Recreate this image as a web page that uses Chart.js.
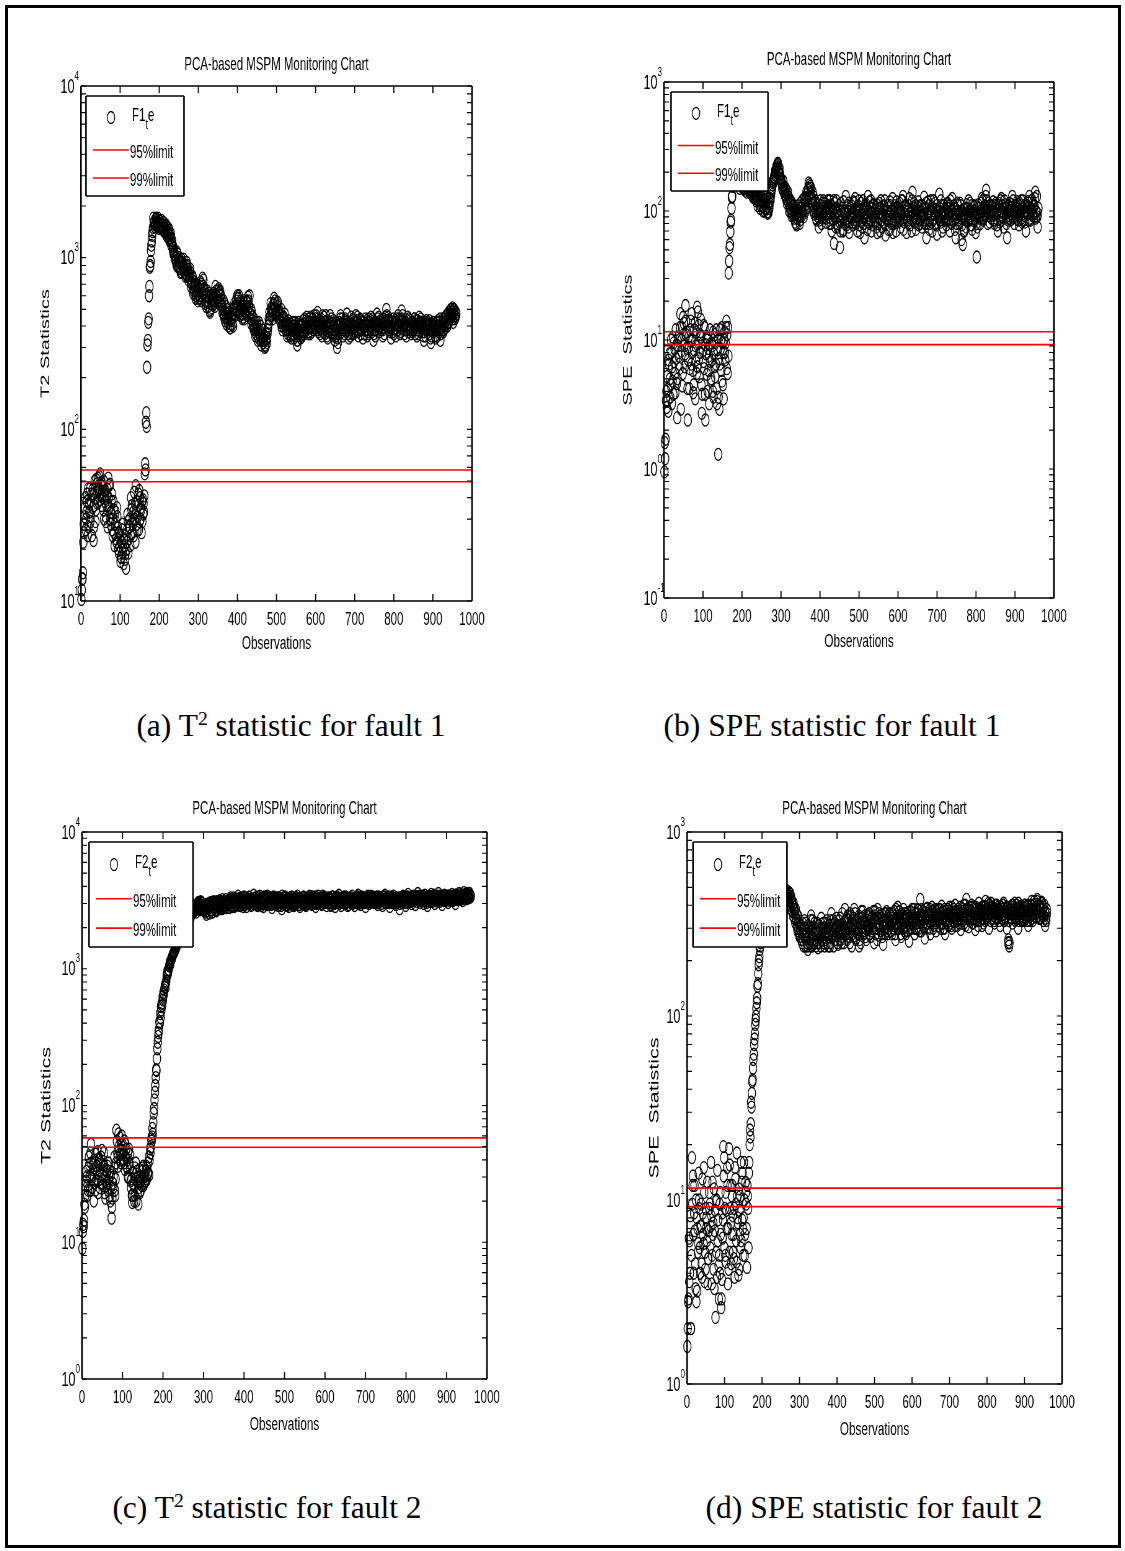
<!DOCTYPE html>
<html><head><meta charset="utf-8">
<script src="https://cdn.jsdelivr.net/npm/chart.js@4.4.1/dist/chart.umd.min.js"></script>
<style>
html,body{margin:0;padding:0;background:#fff;}
body{width:1125px;height:1551px;position:relative;overflow:hidden;}
#frame{position:absolute;left:5px;top:5px;width:1110px;height:1537px;border:3px solid #000;}
.wrap{position:absolute;transform-origin:0 0;}
.wrap canvas{display:block;}
.cap{position:absolute;font-family:"Liberation Serif","Times New Roman",serif;font-size:31.5px;line-height:1;color:#000;white-space:nowrap;transform:translate(-50%,-50%);}
.cap sup{font-size:62%;vertical-align:0.6em;line-height:0;}
</style></head><body>
<div id="frame"></div>
<div class="wrap" id="wa"><canvas id="ca"></canvas></div>
<div class="wrap" id="wb"><canvas id="cb"></canvas></div>
<div class="wrap" id="wc"><canvas id="cc"></canvas></div>
<div class="wrap" id="wd"><canvas id="cd"></canvas></div>
<div class="cap" style="left:291px;top:726px">(a) T<sup>2</sup> statistic for fault 1</div>
<div class="cap" style="left:832px;top:726px">(b) SPE statistic for fault 1</div>
<div class="cap" style="left:267px;top:1508px">(c) T<sup>2</sup> statistic for fault 2</div>
<div class="cap" style="left:874px;top:1508px">(d) SPE statistic for fault 2</div>
<script>
// ---------------- data ----------------
// three interleaved observation passes: obs 1,4,7,... / 2,5,8,... / 3,6,9,...
const obsPassA = Array.from({length: 320}, (_, i) => 1 + 3 * i);
const obsPassB = Array.from({length: 320}, (_, i) => 2 + 3 * i);
const obsPassC = Array.from({length: 320}, (_, i) => 3 + 3 * i);
const obsTicks = [0, 100, 200, 300, 400, 500, 600, 700, 800, 900, 1000];
const chartTitle = 'PCA-based MSPM Monitoring Chart';
const xTitle = 'Observations';
const limitLabels = ['95%limit', '99%limit'];
const t2Limits = [49.5, 58];
const speLimits = [9.2, 11.6];

const t2Fault1A = [
10.2,13.5,28,35,30,42,27,33,38,24,45,36,29,48,52,44,55,47,40,50,
38,31,45,52,35,28,42,30,25,33,22,27,19,24,18,28,16.5,21,15.5,26,
19,30,24,36,28,43,22,38,31,26,40,34,29,37,55,110,230,420,680,950,
1250,1500,1620,1580,1650,1600,1550,1620,1500,1560,1480,1530,1420,1500,1380,1450,1300,1220,1100,1050,
1000,920,1050,880,950,830,900,980,820,900,780,850,760,820,700,760,640,700,600,660,
640,580,700,620,740,660,560,610,520,580,500,560,530,600,560,640,580,660,560,600,
520,470,540,450,500,420,460,390,430,470,510,460,560,600,520,480,540,470,500,440,
480,550,590,520,470,410,450,380,420,360,400,340,380,330,360,320,350,305,340,380,
420,460,510,440,530,560,480,520,450,490,420,460,400,440,380,420,360,400,370,340,
380,420,350,390,310,360,400,340,380,430,370,410,450,390,420,360,400,440,380,420,
460,400,370,430,390,350,410,450,380,420,340,390,460,410,370,430,330,380,300,360,
420,460,390,350,410,440,370,400,340,390,450,410,360,420,460,400,350,390,430,380,
340,400,440,380,420,360,400,450,390,330,380,420,470,410,370,430,390,350,410,450,
500,430,380,420,340,400,440,390,350,420,460,400,370,490,430,380,410,350,390,440,
400,360,420,380,440,400,350,410,450,390,420,370,330,390,430,380,410,360,320,380,
420,380,340,390,430,370,330,400,440,380,420,460,400,480,440,500,460,420,490,450
];
const t2Fault1B = [
11.6,14.6,25,40,33,24,37,45,31,41,22.5,50,34,43,38,53,41,36,46,30,
44,36,27,40,48,33,26,38,21,29,35,20,25,17,22,19,23,17.5,20,32,
23,27,40,25,33,30,47,28,36,44,30,25,39,33,63,125,310,440,880,1100,
1350,1700,1520,1680,1550,1700,1480,1580,1650,1450,1600,1400,1550,1320,1480,1250,1380,1260,1150,1080,
960,1080,900,1000,860,980,870,920,860,800,900,740,800,680,740,620,680,580,640,560,
600,680,560,760,620,590,520,640,560,490,600,510,620,540,680,600,560,620,640,530,
480,560,430,520,440,400,480,410,450,400,540,500,580,540,600,460,520,440,560,470,
520,460,560,600,440,480,400,440,350,390,330,420,350,310,380,330,300,360,320,400,
480,540,470,500,580,510,460,550,480,430,500,380,430,470,400,350,430,380,410,360,
400,340,420,360,330,420,370,400,350,410,440,380,420,360,390,450,370,410,460,390,
420,480,410,360,440,400,370,420,460,350,410,370,420,440,350,400,360,420,340,400,
380,410,440,390,360,420,470,380,410,350,400,430,390,370,420,450,380,410,360,420,
390,360,410,430,370,420,380,400,440,360,410,380,420,450,390,400,430,380,360,420,
460,400,430,370,390,420,360,410,440,380,410,430,400,440,390,360,420,400,450,380,
430,390,370,410,390,430,380,360,420,440,390,410,370,350,400,420,380,410,350,400,
370,410,380,350,400,420,360,380,410,440,390,430,470,420,490,450,510,470,440,480
];
const t2Fault1C = [
13.4,22,31,26,38,45,33,29,42,35,27,40,51,37,46,39,49,43,34,41,
29,41,36,47,30,38,24,34,28,23,31,25,21,18,26,20,24,19,22,29,
27,21,34,30,24,37,33,26,42,29,35,38,32,41,58,104,330,600,900,1180,
1420,1600,1560,1700,1590,1520,1640,1550,1490,1600,1420,1470,1350,1420,1300,1350,1180,1200,1050,990,
1020,890,980,930,820,940,850,880,780,940,820,790,860,720,780,660,720,600,620,580,
660,720,600,680,650,540,600,550,620,480,540,580,570,520,610,590,640,540,600,560,
500,450,480,410,470,440,390,440,410,500,470,520,500,580,490,560,500,450,520,490,
560,500,540,480,500,430,390,400,380,420,370,360,400,340,330,350,310,330,360,440,
440,500,490,540,500,470,540,490,440,470,400,420,450,400,410,380,390,350,390,420,
360,400,380,330,380,410,350,370,400,360,390,430,400,370,440,390,420,380,410,440,
380,440,400,380,420,460,390,360,400,430,370,420,390,360,410,380,350,400,320,420,
440,370,410,380,430,390,410,360,420,380,360,440,400,380,430,370,410,440,390,400,
420,380,400,350,440,390,430,370,410,420,350,400,440,390,420,380,410,440,390,430,
410,450,400,380,420,370,410,430,390,400,440,360,420,460,400,420,380,430,370,410,
380,420,400,440,360,410,430,390,370,410,400,350,420,380,410,390,430,340,400,420,
400,350,420,400,380,440,390,420,370,400,450,410,440,460,470,480,440,500,460,470
];
const speFault1A = [
0.95,1.7,3.0,4.2,6.5,3.6,8.0,4.8,9.5,5.5,7.2,2.5,10.5,6.0,2.9,12.5,15,9.0,18.5,11.5,
2.4,8.8,12,6.5,10,4.5,13.5,7.0,18,9.5,5.2,14.5,2.7,8.2,6.0,2.4,10.5,4.0,7.5,12,
5.0,9.0,3.6,11,6.5,3.2,1.3,2.9,8.5,12.5,4.5,10,7.0,14,5.5,33,55,85,130,170,
190,180,200,170,185,160,175,150,165,155,170,150,160,145,155,140,150,135,145,125,
130,115,140,120,108,135,118,105,125,98,115,130,150,165,180,200,215,235,205,190,
175,160,150,140,125,135,115,105,120,95,110,88,100,78,92,105,85,98,110,90,
120,105,135,150,160,140,125,110,95,120,85,105,75,95,110,88,120,100,82,95,
110,80,95,70,100,56,88,120,75,92,52,85,105,72,95,130,82,100,68,90,
110,78,95,125,85,70,100,88,115,75,92,62,105,85,130,80,98,70,90,112,
82,95,68,105,88,120,75,92,100,65,85,110,90,72,98,125,80,95,70,105,
88,115,75,95,130,82,100,68,92,110,78,96,140,85,105,72,95,118,80,100,
75,92,128,85,62,98,110,80,95,70,120,88,102,66,90,135,82,98,75,110,
95,78,115,88,70,100,125,85,95,62,90,110,80,98,60,55,88,105,75,95,
120,85,100,72,95,110,68,44,90,105,80,98,120,88,110,145,95,115,82,100,
92,118,80,105,95,70,110,88,125,98,75,105,90,62,100,115,85,95,120,80,
100,88,112,78,95,120,85,105,92,70,110,95,130,85,100,115,90,140,98,75
];
const speFault1B = [
1.6,3.4,5.2,2.8,7.8,4.5,3.2,10.5,6.8,3.9,9.2,5.0,7.5,12.5,8.2,4.4,11,6.2,14,8.6,
7.0,4.2,9.8,16,5.8,8.4,3.5,11.5,6.2,13,8.0,10.5,3.8,6.8,12.5,9.2,5.4,8.6,3.2,6.8,
9.5,4.0,7.8,5.2,12,8.4,3.6,6.5,10,4.8,8.0,11.5,9.5,6.0,12.5,41,69,105,155,185,
175,195,165,180,150,170,155,175,150,160,140,155,145,160,135,150,130,145,120,135,
120,140,110,128,100,122,112,130,96,108,125,140,160,175,190,210,225,200,215,180,
165,145,155,130,145,120,128,112,100,115,96,105,80,98,110,90,115,92,100,125,
112,140,120,165,135,150,115,130,105,98,112,90,100,120,80,105,95,115,88,105,
95,120,80,108,85,115,75,98,90,110,70,100,88,118,80,95,110,75,92,105,
88,100,115,80,105,92,120,68,95,102,80,110,90,72,100,118,85,105,78,95,
100,75,90,115,70,95,108,82,120,88,100,72,95,110,85,68,105,90,118,82,
105,85,98,120,72,95,110,85,100,125,88,70,100,115,82,95,108,78,98,88,
110,82,95,105,80,118,72,92,108,85,95,115,78,100,88,105,120,70,95,88,
100,112,85,95,120,80,92,105,72,98,115,85,95,110,78,92,70,95,112,85,
100,115,78,95,108,85,95,75,112,88,100,125,85,105,92,120,80,98,110,88,
108,85,98,115,78,100,92,120,85,105,95,112,80,98,110,88,105,130,90,102,
92,118,85,100,110,88,120,95,82,108,98,115,88,105,122,95,110,88,130,95
];
const speFault1C = [
1.2,4.0,3.4,7.0,5.0,10,6.2,3.8,8.5,12,4.6,9.0,6.5,16,10,5.5,13.5,7.8,11,4.2,
10.5,6.0,14,8.0,3.9,12,9.0,5.5,16.5,7.2,11,4.5,9.5,13,3.8,7.8,10,5.8,9.2,4.8,
7.0,11.5,6.2,9.5,4.2,10.5,7.2,12,5.8,9.5,3.5,8.0,12.5,11,7.5,52,82,128,165,195,
185,170,190,160,175,165,180,160,145,165,150,160,140,150,145,128,140,125,130,110,
140,105,125,112,130,100,120,98,115,105,120,145,170,185,205,220,230,210,195,170,
150,170,135,150,115,140,100,118,92,108,100,82,95,88,100,80,105,120,95,105,
100,125,145,130,155,120,140,100,115,88,100,95,85,110,98,115,90,108,98,120,
90,105,110,88,120,92,105,80,100,82,115,95,70,100,86,78,100,115,82,100,
95,118,82,100,90,110,78,102,85,120,88,95,112,92,82,105,120,95,110,85,
90,112,80,98,105,85,92,110,78,100,92,85,118,100,80,95,110,85,100,92,
95,100,120,85,95,110,90,105,80,95,100,120,85,92,110,88,100,85,110,92,
90,105,80,115,95,85,100,120,82,105,95,80,110,92,100,85,95,110,88,100,
85,105,95,110,82,100,95,110,88,80,100,95,115,88,100,70,95,85,105,90,
88,100,110,85,100,95,80,95,105,92,115,88,100,95,130,100,108,92,98,110,
100,95,110,88,100,115,82,100,110,90,120,95,105,85,92,100,112,88,100,110,
105,98,90,115,100,82,105,110,98,95,118,85,100,120,92,108,125,100,90,105
];
const t2Fault2A = [
9,13,18,28,22,35,30,52,25,38,27,44,32,23,40,29,47,26,36,21,
33,24,30,20,15,27,35,22,66,42,50,58,38,52,45,34,48,40,30,44,
25,19.5,32,22,38,28,19,34,24,30,36,27,33,29,38,31,45,55,62,95,
140,180,290,360,470,500,620,650,760,810,960,990,1120,1150,1230,1300,1350,1420,1500,1580,
1650,1720,1780,1850,1900,1980,2050,2150,2250,2400,2550,2700,2850,2700,2950,2800,3000,2750,3050,2850,
2650,2900,2500,2800,3000,2700,2950,2600,3100,2850,2700,3000,2800,3150,2900,2750,3050,2850,3200,2950,
3100,2800,3300,2950,3150,2850,3250,3000,3400,3100,2900,3200,3000,3350,3050,2850,3250,3000,3150,2900,
3200,3450,3000,3300,2900,3150,3400,3050,3250,2850,3100,3350,2950,3200,3000,3300,2800,3100,3250,2950,
3150,2900,3300,3050,2750,3200,3000,3350,2950,3150,2850,3250,3050,3300,2900,3150,3000,3400,3100,2850,
3200,3000,3350,3100,2900,3250,3050,3400,3150,2950,3300,3100,2850,3200,3400,3050,3250,2950,3150,3350,
3100,2900,3300,3050,3200,2950,3350,3150,2850,3250,3050,3450,3100,2900,3300,3150,3000,3350,3100,2950,
3250,3050,3400,3150,2900,3300,3100,3450,3200,2950,3350,3050,3250,2850,3150,3400,3000,3250,3100,3350,
3050,3300,3150,2950,3350,3100,3250,2900,3200,3450,3050,3300,3100,2850,3250,3050,3400,3150,2950,3300,
3100,2750,3250,3050,3400,3150,2900,3300,3500,3100,3250,3000,3400,3150,2950,3350,3550,3200,3050,3400,
3250,3000,3450,3150,2900,3350,3200,3500,3100,3300,3000,3400,3200,3550,3100,3300,2950,3250,3450,3150,
3300,3050,3400,3200,3500,3150,3350,3000,3450,3250,3550,3200,3400,3150,3600,3350,3250,3500,3300,3450
];
const t2Fault2B = [
12,14.5,22,33,26,42,24,38,31,20,35,28,46,37,25,42,31,39,23,34,
27,38,22,31,18,25,42,29,55,36,47,40,60,44,38,52,36,30,48,35,
29,22,26,35,20,30,25,23,28,33,26,31,28,35,32,40,50,59,75,110,
160,220,320,410,440,560,590,700,730,880,920,1050,1080,1200,1260,1320,1400,1460,1540,1620,
1700,1760,1820,1880,1950,2000,2100,2200,2320,2480,2620,2780,2650,2900,2750,3050,2900,3100,2800,2700,
2800,2600,2950,2750,2550,2900,2700,3050,2800,2950,2650,2900,3100,2800,3000,3200,2900,3100,2800,3050,
2950,3200,2850,3100,3300,3000,2900,3200,3050,2950,3250,3100,2850,3150,3300,3000,3100,3350,2950,3200,
3050,3150,3300,2950,3200,3050,3250,2900,3150,3350,3000,3200,3400,3050,3250,2950,3150,3350,3050,3200,
3000,3250,2950,3200,3400,3050,3300,3100,2900,3250,3150,3000,3350,3100,3200,2950,3300,3100,2950,3250,
3050,3300,3100,2950,3200,3000,3300,3150,3000,3350,3100,3250,3050,3300,3100,3250,3000,3300,3250,3050,
3250,3150,3050,3300,2900,3200,3100,3000,3300,3150,3250,3000,3250,3150,3050,3350,3200,3050,2900,3250,
3100,3300,3000,3250,3150,3050,3350,3000,3250,3150,3050,3300,3100,3200,3350,3050,3200,3400,3250,3100,
3200,3100,3350,3050,3200,3300,3000,3200,3350,3050,3250,3150,3350,3050,3200,3300,3100,3250,3050,3200,
3250,3000,3150,3350,3100,3250,3350,3050,3200,3300,3100,3350,3150,3250,3400,3100,3250,3400,3300,3150,
3400,3150,3300,3050,3250,3400,3100,3300,3250,3450,3200,3300,3100,3350,3400,3200,3350,3150,3300,3400,
3200,3400,3250,3350,3150,3400,3300,3450,3200,3350,3300,3500,3250,3450,3300,3400,3550,3300,3450,3350
];
const t2Fault2C = [
13.5,19,26,30,24,37,45,29,34,40,24,36,28,41,33,27,37,45,30,26,
36,28,33,25,21,30,24,38,45,62,44,52,47,40,55,42,35,45,38,28,
22,27,20,29,33,23,27,30,26,35,30,28,36,32,42,48,57,68,88,125,
183,260,340,400,530,540,670,735,780,920,985,1060,1140,1200,1280,1330,1430,1480,1560,1620,
1690,1740,1800,1860,1920,2000,2080,2180,2300,2450,2600,2750,2800,2600,2850,2950,2700,2900,3000,2750,
2900,2750,2650,2950,2800,3050,2600,2850,2950,2700,3100,2850,2950,2750,3100,3000,2800,3000,2950,3100,
3000,3150,3050,2850,3200,3100,2950,3150,3250,2900,3050,3300,3150,2950,3200,3100,3000,3200,3100,3050,
3100,3250,3150,3050,3350,2950,3150,3250,3000,3150,3250,2950,3100,3300,3100,3150,3000,3250,3150,3300,
3300,3100,3150,2900,3100,3300,3150,2950,3200,3050,3300,3100,2950,3200,3050,3300,3150,3250,2950,3100,
3150,3100,3250,3000,3100,3300,3200,3100,3250,3050,3150,3350,3000,3100,3250,3200,3100,3400,3050,3200,
3150,3050,3200,3250,3050,3350,3100,3200,3050,3350,3200,3150,3050,3250,3200,3050,3250,3200,3250,3100,
3150,3200,3250,3050,3300,3150,3250,3100,3050,3300,3150,3200,3300,3050,3250,3150,3300,3100,3200,3250,
3150,3250,3050,3250,3150,3300,3150,3350,3100,3250,3150,3250,3050,3200,3350,3150,3250,3050,3200,3150,
3300,3150,3300,3200,3250,3050,3200,3350,3250,3200,3350,3150,3250,3350,3200,3250,3350,3150,3300,3250,
3150,3300,3200,3350,3200,3250,3350,3150,3350,3200,3350,3250,3400,3250,3300,3400,3200,3350,3250,3300,
3400,3300,3150,3400,3300,3250,3450,3300,3350,3400,3300,3400,3350,3300,3450,3500,3350,3400,3550,3400
];
const speFault2A = [
1.6,2.9,6.0,2.0,17,13.5,8.5,4.5,2.8,7.0,14,5.5,9.5,3.8,6.5,11,4.2,8.0,3.5,6.8,
9.5,16,5.0,7.5,3.3,2.3,10,6.0,2.9,4.0,2.6,8.5,19.5,5.5,11,7.0,3.5,19,9.0,4.5,
12,6.5,3.8,9.5,18,7.5,4.2,10.5,6.0,14,8.0,5.0,11,4.3,9.0,16,22,32,45,62,
80,100,125,170,210,250,300,340,380,420,450,470,440,480,430,460,410,450,400,440,
420,460,400,450,410,470,430,480,440,470,410,450,380,420,350,390,320,360,290,330,
270,310,250,290,330,240,280,230,300,260,350,240,280,320,255,295,235,310,270,340,
260,300,240,285,330,270,310,250,360,290,240,320,275,305,245,290,340,270,315,250,
380,300,260,330,280,350,240,310,290,360,265,320,285,340,250,305,370,280,320,260,
330,295,360,270,340,310,250,350,300,380,275,320,290,355,245,330,300,370,280,340,
310,350,280,330,370,260,320,390,300,345,270,335,380,290,340,310,365,255,330,300,
360,320,280,340,300,375,330,430,290,350,320,265,340,385,305,355,280,330,370,310,
345,290,380,330,360,300,395,320,350,280,370,335,310,390,345,300,365,325,400,340,
310,370,335,295,385,350,320,400,430,345,305,375,340,390,320,360,295,380,345,410,
330,370,310,395,350,420,335,380,300,365,410,340,385,320,360,400,345,375,310,390,
355,410,330,380,300,250,240,345,390,320,365,410,340,385,300,360,395,330,375,345,
400,340,370,310,390,350,420,330,380,405,345,430,370,395,340,415,380,350,310,330
];
const speFault2B = [
2.0,6.2,4.0,2.0,9.5,6.5,12,3.3,8.0,5.2,10,4.0,7.2,13,5.8,3.6,9.0,6.0,4.8,11,
5.5,8.2,12.5,4.2,6.8,9.8,3.8,7.8,5.0,11,2.9,6.2,13.5,9.0,4.6,15,7.0,5.2,12,6.5,
8.2,4.8,15,6.0,10.5,3.9,8.8,5.5,12.5,7.0,16,6.5,9.5,12,5.5,20,26,38,52,70,
90,110,145,190,230,270,320,360,400,440,460,420,470,440,480,420,460,430,470,410,
450,410,470,430,460,420,480,450,460,420,470,400,440,370,410,340,380,310,350,280,
300,260,320,240,300,270,250,310,280,240,300,330,260,290,240,320,280,250,295,260,
290,250,320,260,300,240,280,330,270,310,290,260,340,280,310,260,300,250,290,320,
330,280,350,300,250,310,330,270,380,300,330,280,350,260,320,340,290,330,300,350,
300,360,280,320,290,370,330,280,340,310,360,300,340,270,310,360,330,290,350,320,
360,290,340,300,320,380,340,300,370,320,350,300,330,360,280,350,320,340,370,320,
330,380,340,300,360,330,290,350,380,310,360,340,380,320,350,300,360,390,330,355,
380,330,350,310,380,345,320,370,300,350,330,380,355,320,360,390,330,350,310,370,
350,320,390,360,330,370,350,310,380,360,390,340,370,320,380,340,390,360,310,370,
380,340,360,320,390,360,380,350,400,330,370,390,350,380,340,360,390,330,370,355,
380,330,370,350,390,260,250,380,340,400,360,330,380,350,410,340,370,360,390,330,
360,390,330,380,350,400,340,370,420,360,380,350,400,340,390,360,330,400,360,380
];
const speFault2C = [
2.8,3.6,8.2,5.0,12,4.0,6.8,10,3.2,5.8,9.0,7.2,4.5,8.5,15,5.2,7.0,12.5,4.8,9.0,
7.2,3.5,6.5,11.5,8.8,5.2,14.5,4.4,9.5,6.5,3.7,7.8,17,5.0,8.8,12,4.2,15.5,7.5,10.5,
5.2,9.0,13,4.6,8.0,11.5,6.5,16,7.8,5.0,10,12.5,7.0,10.5,14,24,34,44,58,75,
95,118,150,200,240,290,330,370,410,430,470,440,460,420,470,440,480,420,450,460,
430,480,440,460,420,450,470,430,480,450,430,460,410,400,380,360,340,300,320,270,
310,280,260,300,270,320,240,270,250,330,270,300,250,300,280,250,310,270,240,300,
320,270,300,250,290,310,240,300,280,330,260,300,310,250,330,280,260,360,280,300,
290,340,300,270,360,300,280,340,310,260,330,300,240,310,370,280,320,350,270,310,
350,310,270,340,300,330,370,300,260,340,310,350,280,330,300,280,360,320,300,360,
290,330,360,310,280,340,300,350,330,280,360,320,300,340,360,290,340,300,350,380,
340,300,360,320,380,300,350,320,340,370,300,350,320,360,330,380,320,350,300,360,
320,370,340,380,320,360,340,300,380,340,320,360,330,370,310,350,380,340,370,330,
380,340,360,320,350,400,340,370,340,380,330,350,400,360,340,390,360,330,380,350,
360,390,340,370,330,380,350,410,360,390,340,370,330,400,370,340,380,360,390,340,
400,360,340,390,360,330,380,360,400,350,380,340,400,360,330,390,350,380,340,400,
370,350,400,360,330,380,360,400,350,390,420,370,340,380,410,350,390,370,340,360
];

// ---------------- layout ----------------
const SX = 0.62;               // horizontal squeeze of the original figure
const FONT = '"Liberation Sans", Arial, sans-serif';

const panels = [
  {id:'a', passes:[t2Fault1A, t2Fault1B, t2Fault1C], name:'F1', lims:t2Limits, yExp:[1,4], yTitle:'T2 Statistics', yTitleSize:20,
   canvas:[25,45,495,665], area:[81,86,472,601], titleY:65, xTitleY:644, yTitleX:46, legend:[86,96,98,100]},
  {id:'b', passes:[speFault1A, speFault1B, speFault1C], name:'F1', lims:speLimits, yExp:[-1,3], yTitle:'SPE  Statistics', yTitleSize:20,
   canvas:[605,40,1075,660], area:[664,82,1054,598], titleY:60, xTitleY:642, yTitleX:628, legend:[671,92,97,99]},
  {id:'c', passes:[t2Fault2A, t2Fault2B, t2Fault2C], name:'F2', lims:t2Limits, yExp:[0,4], yTitle:'T2 Statistics', yTitleSize:21.5,
   canvas:[25,790,505,1445], area:[82,832,487,1379], titleY:808.5, xTitleY:1425, yTitleX:47, legend:[89,842,104,105]},
  {id:'d', passes:[speFault2A, speFault2B, speFault2C], name:'F2', lims:speLimits, yExp:[0,3], yTitle:'SPE  Statistics', yTitleSize:21.5,
   canvas:[625,790,1080,1450], area:[687,832,1062,1384], titleY:808.5, xTitleY:1430, yTitleX:655, legend:[693,842,94,105]}
];
const obsPasses = [obsPassA, obsPassB, obsPassC];

const matlabPlugin = {
  id: 'matlabAxes',
  afterDraw(chart) {
    const p = chart.$panel;
    const ctx = chart.ctx, a = chart.chartArea;
    const xs = chart.scales.x, ys = chart.scales.y;
    const L = p.canvas[0], T = p.canvas[1];
    ctx.save();
    ctx.strokeStyle = '#000';
    ctx.fillStyle = '#000';
    // axes box
    ctx.lineWidth = 1.6;
    ctx.beginPath();
    ctx.moveTo(a.left, a.top); ctx.lineTo(a.right, a.top);
    ctx.moveTo(a.left, a.bottom); ctx.lineTo(a.right, a.bottom);
    ctx.stroke();
    ctx.lineWidth = 1.6 / SX;
    ctx.beginPath();
    ctx.moveTo(a.left, a.top); ctx.lineTo(a.left, a.bottom);
    ctx.moveTo(a.right, a.top); ctx.lineTo(a.right, a.bottom);
    ctx.stroke();
    // x ticks (inward, bottom & top)
    ctx.lineWidth = 1.1 / SX;
    ctx.beginPath();
    obsTicks.forEach(v => {
      const px = xs.getPixelForValue(v);
      ctx.moveTo(px, a.bottom); ctx.lineTo(px, a.bottom - 7);
      ctx.moveTo(px, a.top); ctx.lineTo(px, a.top + 7);
    });
    ctx.stroke();
    // y ticks (inward, left & right, log minor)
    ctx.lineWidth = 1.1;
    ctx.beginPath();
    const tl = 5 / SX;
    for (let k = p.yExp[0]; k < p.yExp[1]; k++) {
      for (let m = 1; m <= 9; m++) {
        const py = ys.getPixelForValue(m * Math.pow(10, k));
        ctx.moveTo(a.left, py); ctx.lineTo(a.left + tl, py);
        ctx.moveTo(a.right, py); ctx.lineTo(a.right - tl, py);
      }
    }
    const pTop = ys.getPixelForValue(Math.pow(10, p.yExp[1]));
    ctx.moveTo(a.left, pTop); ctx.lineTo(a.left + tl, pTop);
    ctx.moveTo(a.right, pTop); ctx.lineTo(a.right - tl, pTop);
    ctx.stroke();
    // y labels 10^k
    for (let k = p.yExp[0]; k <= p.yExp[1]; k++) {
      const py = ys.getPixelForValue(Math.pow(10, k));
      ctx.font = '20.5px ' + FONT;
      ctx.textAlign = 'right'; ctx.textBaseline = 'middle';
      ctx.fillText('10', a.left - 6.5 / SX, py + 1);
      ctx.font = '13px ' + FONT;
      ctx.textAlign = 'left';
      ctx.fillText(String(k), a.left - 6.5 / SX, py - 10);
    }
    // legend box
    const [bx, by, bw, bh] = p.legend;
    const nx = (bx - L) / SX, ny = by - T, nw = bw / SX, nh = bh;
    ctx.fillStyle = '#fff';
    ctx.fillRect(nx, ny, nw, nh);
    ctx.lineWidth = 1.6;
    ctx.beginPath();
    ctx.moveTo(nx, ny); ctx.lineTo(nx + nw, ny);
    ctx.moveTo(nx, ny + nh); ctx.lineTo(nx + nw, ny + nh);
    ctx.stroke();
    ctx.lineWidth = 1.6 / SX;
    ctx.beginPath();
    ctx.moveTo(nx, ny); ctx.lineTo(nx, ny + nh);
    ctx.moveTo(nx + nw, ny); ctx.lineTo(nx + nw, ny + nh);
    ctx.stroke();
    // marker entry
    ctx.lineWidth = 1.3;
    ctx.beginPath();
    ctx.arc(nx + 25 / SX, ny + 0.215 * nh, 6, 0, Math.PI * 2);
    ctx.stroke();
    ctx.fillStyle = '#000';
    ctx.textAlign = 'left'; ctx.textBaseline = 'middle';
    const tx = nx + 46 / SX;
    ctx.font = '18.5px ' + FONT;
    ctx.fillText(p.name, tx, ny + 0.2 * nh);
    const w1 = ctx.measureText(p.name).width;
    ctx.font = '15px ' + FONT;
    ctx.fillText('t', tx + w1, ny + 0.2 * nh + 9);
    const w2 = ctx.measureText('t').width;
    ctx.font = '18.5px ' + FONT;
    ctx.fillText('e', tx + w1 + w2, ny + 0.2 * nh);
    // line entries
    const ly = [0.54 * nh, 0.82 * nh];
    ly.forEach((yy, i) => {
      ctx.strokeStyle = '#ff0000';
      ctx.lineWidth = 1.6;
      ctx.beginPath();
      ctx.moveTo(nx + 7 / SX, ny + yy); ctx.lineTo(nx + 43 / SX, ny + yy);
      ctx.stroke();
      ctx.fillStyle = '#000';
      ctx.fillText(limitLabels[i], nx + 44 / SX, ny + yy + 3);
    });
    ctx.restore();
  }
};

function build(p) {
  const [L, T, R, B] = p.canvas;
  const [x0, y0, x1, y1] = p.area;
  const Wn = Math.round((R - L) / SX), H = B - T;
  const wrap = document.getElementById('w' + p.id);
  wrap.style.left = L + 'px'; wrap.style.top = T + 'px';
  wrap.style.transform = 'scaleX(' + SX + ')';
  const cv = document.getElementById('c' + p.id);
  cv.width = Wn; cv.height = H;
  const axL = (x0 - L) / SX, axR = (x1 - L) / SX;
  const padR = Wn - axR;
  const titleSize = 18.5, titleLH = titleSize * 1.2;
  const padT = p.titleY - titleLH / 2 - T;
  const titlePB = y0 - T - padT - titleLH;
  const xAxisH = B - y1;
  const xtSize = 19, xtLH = xtSize * 1.2;
  const xTitlePB = B - p.xTitleY - xtLH / 2;
  const ytLH = p.yTitleSize * 1.2;
  const yTitlePT = (p.yTitleX - L) / SX - ytLH / 2;

  let points = [];
  obsPasses.forEach((obs, k) => {
    points = points.concat(obs.map((o, i) => ({x: o, y: p.passes[k][i]})));
  });
  points.sort((u, v) => u.x - v.x);

  return new Chart(cv, {
    type: 'scatter',
    data: {
      datasets: [
        {type: 'line', label: limitLabels[0], data: [{x: 0, y: p.lims[0]}, {x: 1000, y: p.lims[0]}],
         borderColor: '#ff0000', borderWidth: 1.6, pointRadius: 0, fill: false, clip: false},
        {type: 'line', label: limitLabels[1], data: [{x: 0, y: p.lims[1]}, {x: 1000, y: p.lims[1]}],
         borderColor: '#ff0000', borderWidth: 1.6, pointRadius: 0, fill: false, clip: false},
        {label: p.name + 'te', data: points,
         pointStyle: 'circle', pointRadius: 6, pointBorderWidth: 1.35,
         pointBorderColor: '#000', pointBackgroundColor: 'rgba(0,0,0,0)', showLine: false, clip: false}
      ]
    },
    options: {
      responsive: false, animation: false, devicePixelRatio: 1,
      events: [],
      layout: {padding: {left: 0, right: padR, top: padT, bottom: 0}},
      plugins: {
        legend: {display: false}, tooltip: {enabled: false},
        title: {display: true, text: chartTitle, fullSize: false, color: '#000',
                font: {family: FONT, size: titleSize, weight: 'normal', lineHeight: 1.2},
                padding: {top: 0, bottom: titlePB}}
      },
      scales: {
        x: {type: 'linear', min: 0, max: 1000,
            grid: {display: false, drawTicks: false}, border: {display: false},
            ticks: {stepSize: 100, color: '#000', font: {family: FONT, size: 18.5, lineHeight: 1.2},
                    padding: 8, maxRotation: 0, autoSkip: false, callback: v => String(v)},
            title: {display: true, text: xTitle, color: '#000',
                    font: {family: FONT, size: xtSize, lineHeight: 1.2}, padding: {top: 0, bottom: xTitlePB}},
            afterFit: s => { s.height = xAxisH; }},
        y: {type: 'logarithmic', min: Math.pow(10, p.yExp[0]), max: Math.pow(10, p.yExp[1]),
            grid: {display: false, drawTicks: false}, border: {display: false},
            ticks: {display: false},
            title: {display: true, text: p.yTitle, color: '#000',
                    font: {family: FONT, size: p.yTitleSize, lineHeight: 1.2}, padding: {top: yTitlePT, bottom: 0}},
            afterFit: s => { s.width = axL; }}
      }
    },
    plugins: [{id: 'panelRef', beforeInit(c) { c.$panel = p; }}, matlabPlugin]
  });
}
panels.forEach(build);
</script>
</body></html>
